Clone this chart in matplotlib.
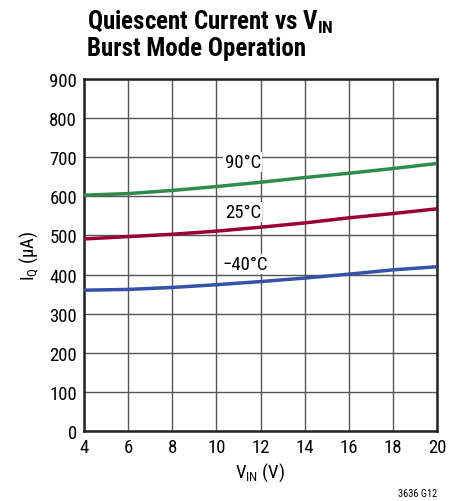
import matplotlib
matplotlib.use("Agg")
import matplotlib.pyplot as plt
from matplotlib import font_manager

names = {f.name for f in font_manager.fontManager.ttflist}
narrow = 'Liberation Sans'
for cand in ['Liberation Sans Narrow', 'Roboto Condensed', 'Open Sans Condensed', 'Noto Sans Condensed']:
    if cand in names:
        narrow = cand
        break
plt.rcParams['font.family'] = [narrow, 'DejaVu Sans']

vin = [4, 6, 8, 10, 12, 14, 16, 18, 20]
iq_90 = [603, 607, 615, 625, 636, 648, 659, 671, 684]
iq_25 = [491, 497, 503, 511, 521, 532, 545, 556, 568]
iq_m40 = [360, 362, 367, 374, 382, 391, 401, 412, 420]

fig = plt.figure(figsize=(4.61, 5.02), dpi=100)
ax = fig.add_axes([84/461, 70/502, 353/461, 352/502])

ax.plot(vin, iq_90, color='#2e8b4e', lw=2.5, zorder=3)
ax.plot(vin, iq_25, color='#9a0032', lw=2.5, zorder=3)
ax.plot(vin, iq_m40, color='#3352a8', lw=2.5, zorder=3)

fs = 13.5
box = dict(facecolor='white', edgecolor='none', pad=1)
ax.text(11.2, 688, '90°C', ha='center', va='center', fontsize=fs, bbox=box, zorder=4)
ax.text(11.2, 560, '25°C', ha='center', va='center', fontsize=fs, bbox=box, zorder=4)
ax.text(11.3, 427, '\u221240°C', ha='center', va='center', fontsize=fs, bbox=box, zorder=4)

ax.set_xlim(4, 20)
ax.set_ylim(0, 900)
ax.set_xticks(range(4, 21, 2))
ax.set_yticks(range(0, 901, 100))
ax.grid(True, color='#555555', lw=1)
ax.set_axisbelow(True)
ax.tick_params(length=0, labelsize=fs, pad=5)
for s in ax.spines.values():
    s.set_linewidth(1.8)
    s.set_color('#222222')

ax.set_xlabel('V$_{\\mathregular{IN}}$ (V)', fontsize=fs, labelpad=3)
ax.set_ylabel('I$_{\\mathregular{Q}}$ (\u00b5A)', fontsize=fs, labelpad=6)

title_size = 18 if narrow != 'Liberation Sans' else 15
fig.text(87/461, 1 - 22/502, 'Quiescent Current vs V$_{\\mathregular{IN}}$', fontsize=title_size,
         fontweight='bold', va='center', ha='left')
fig.text(87/461, 1 - 49/502, 'Burst Mode Operation', fontsize=title_size,
         fontweight='bold', va='center', ha='left')
fig.text(437/461, 1 - 494/502, '3636 G12', fontsize=7.5, ha='right', va='center')

fig.savefig('out.png', dpi=100)
